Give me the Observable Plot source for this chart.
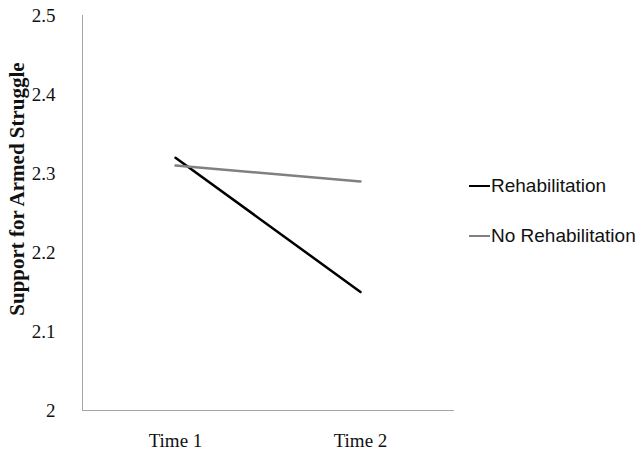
<!DOCTYPE html>
<html>
<head>
<meta charset="utf-8">
<script src="https://cdn.jsdelivr.net/npm/d3@7"></script>
<script src="https://cdn.jsdelivr.net/npm/@observablehq/plot@0.6"></script>
<style>
  html, body { margin: 0; padding: 0; background: #fff; }
  #wrap { position: relative; width: 643px; height: 451px; }
  #wrap svg { position: absolute; left: 0; top: 0; }
  #wrap svg text { font-family: "Liberation Serif", "DejaVu Serif", serif; }
  .legend { position: absolute; left: 469px; font-family: "Liberation Sans", Arial, sans-serif; font-size: 19px; color: #111; display: flex; align-items: center; white-space: nowrap; }
  .legend .sw { display: inline-block; width: 21px; height: 0; border-top: 2.5px solid; margin-right: 1px; }
  .ytitle { position: absolute; left: 17px; top: 189px; transform: translate(-50%, -50%) rotate(-90deg); font-family: "Liberation Serif", serif; font-weight: bold; font-size: 21px; color: #111; white-space: nowrap; line-height: 1; }
  [aria-label="y-axis tick label"] text { font-size: 19px; }
  [aria-label="x-axis tick label"] text { font-size: 19px; }
</style>
</head>
<body>
<div id="wrap"></div>
<script>
const times = ["Time 1", "Time 2"];
const series = ["Rehabilitation", "No Rehabilitation"];
const rehabilitation = [2.32, 2.15];
const noRehabilitation = [2.31, 2.29];
const yTicks = [2, 2.1, 2.2, 2.3, 2.4, 2.5];
const yTickLabels = ["2", "2.1", "2.2", "2.3", "2.4", "2.5"];
const yTitle = "Support for Armed Struggle";
const colors = ["#000000", "#808080"];

const data = [];
times.forEach((t, i) => {
  data.push({time: t, value: rehabilitation[i], series: series[0]});
  data.push({time: t, value: noRehabilitation[i], series: series[1]});
});

const chart = Plot.plot({
  width: 643,
  height: 451,
  marginLeft: 82,
  marginRight: 190,
  marginTop: 15,
  marginBottom: 41,
  style: {fontFamily: "Liberation Serif, serif", fontSize: "19px", color: "#111", background: "transparent"},
  x: {type: "point", domain: times, padding: 0.5},
  y: {domain: [2, 2.5]},
  color: {domain: series, range: colors},
  marks: [
    Plot.frame({anchor: "left", stroke: "#a6a6a6", strokeWidth: 1}),
    Plot.frame({anchor: "bottom", stroke: "#a6a6a6", strokeWidth: 1}),
    Plot.axisY({ticks: yTicks, tickFormat: (d) => yTickLabels[yTicks.indexOf(d)], tickSize: 0, tickPadding: 27, label: null}),
    Plot.axisX({tickSize: 0, tickPadding: 23, label: null}),
    Plot.line(data, {x: "time", y: "value", z: "series", stroke: "series", strokeWidth: 2.5}),
  ]
});
const wrap = document.getElementById("wrap");
wrap.appendChild(chart);

const t = document.createElement("div");
t.className = "ytitle";
t.textContent = yTitle;
wrap.appendChild(t);

const legendTops = [175, 225];
series.forEach((s, i) => {
  const d = document.createElement("div");
  d.className = "legend";
  d.style.top = legendTops[i] + "px";
  d.innerHTML = `<span class="sw" style="border-color:${colors[i]}"></span><span>${s}</span>`;
  wrap.appendChild(d);
});
</script>
</body>
</html>
